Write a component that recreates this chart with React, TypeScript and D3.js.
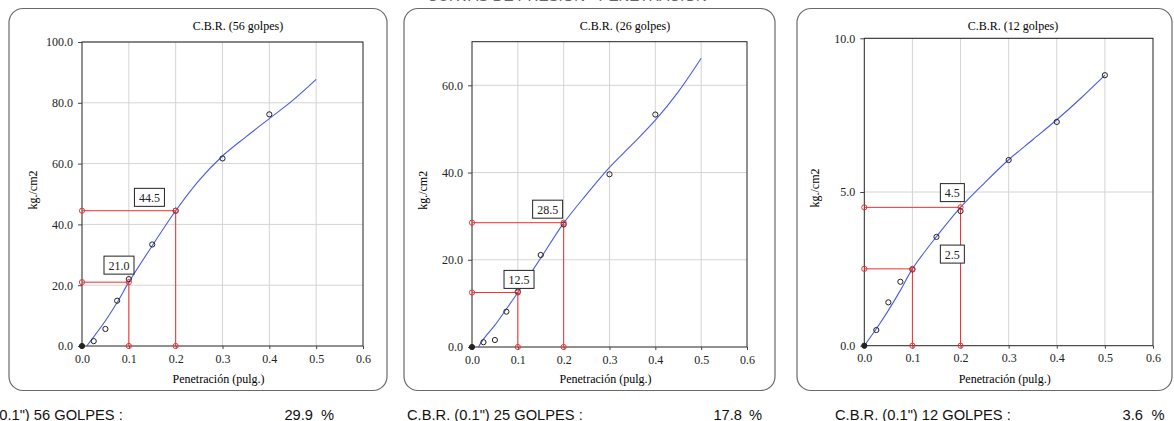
import React, { useEffect, useRef } from 'react';
import * as d3 from 'd3';

// measured points: penetration (in) vs load (kg/cm2)
const penetration = [0, 0.025, 0.05, 0.075, 0.1, 0.15, 0.2, 0.3, 0.4, 0.5];
const load56 = [0, 1.6, 5.6, 14.9, 22.0, 33.4, 44.5, 61.7, 76.2];
const load26 = [0, 1.1, 1.6, 8.1, 12.7, 21.1, 28.1, 39.6, 53.3];
const load12 = [0, 0.51, 1.41, 2.08, 2.48, 3.54, 4.38, 6.04, 7.28, 8.8];

// fitted curves
const fitX56 = [0.01, 0.025, 0.05, 0.075, 0.1, 0.15, 0.2, 0.25, 0.3, 0.35, 0.4, 0.45, 0.5];
const fit56 = [0, 3.0, 8.3, 14.3, 21.0, 33.0, 44.5, 54.5, 62.5, 68.8, 74.8, 80.8, 87.7];
const fitX26 = [0.014, 0.025, 0.05, 0.075, 0.1, 0.15, 0.2, 0.25, 0.3, 0.35, 0.4, 0.45, 0.5];
const fit26 = [0, 1.8, 5.0, 8.7, 12.5, 20.4, 28.4, 35.0, 41.2, 46.5, 52.0, 58.5, 66.2];
const fitX12 = [0, 0.025, 0.05, 0.075, 0.1, 0.15, 0.2, 0.25, 0.3, 0.35, 0.4, 0.45, 0.5];
const fit12 = [0, 0.55, 1.15, 1.8, 2.5, 3.55, 4.5, 5.3, 6.05, 6.7, 7.35, 8.05, 8.8];

// loads at 0.1" and 0.2"
const readX = [0.1, 0.2];
const read56 = [21.0, 44.5];
const read26 = [12.5, 28.5];
const read12 = [2.5, 4.5];

const xTicks = [0, 0.1, 0.2, 0.3, 0.4, 0.5, 0.6];
const yTicks56 = [0, 20, 40, 60, 80, 100];
const yTicks26 = [0, 20, 40, 60];
const yTicks12 = [0, 5, 10];

const titles = ['C.B.R. (56 golpes)', 'C.B.R. (26 golpes)', 'C.B.R. (12 golpes)'];
const footers = ['C.B.R. (0.1") 56 GOLPES :', 'C.B.R. (0.1") 25 GOLPES :', 'C.B.R. (0.1") 12 GOLPES :'];
const cbrValues = ['29.9', '17.8', '3.6'];

const panels = [
  {
    box: { x: 9, y: 8.5, w: 378, h: 382 }, plot: { l: 82, r: 363, t: 42, b: 346 },
    yMax: 100, yTicks: yTicks56, pts: load56, fitX: fitX56, fit: fit56, reads: read56,
    labelAt: [[0.079, 26.6], [0.144, 48.9]], titleX: 238, footX: -53, numX: 313, pctX: 321,
  },
  {
    box: { x: 404, y: 8.5, w: 371, h: 382 }, plot: { l: 472, r: 747, t: 41.7, b: 347 },
    yMax: 70, yTicks: yTicks26, pts: load26, fitX: fitX26, fit: fit26, reads: read26,
    labelAt: [[0.1026, 15.5], [0.165, 31.6]], titleX: 625, footX: 407, numX: 742, pctX: 749,
  },
  {
    box: { x: 797, y: 8.5, w: 375, h: 382 }, plot: { l: 864.3, r: 1153, t: 38.3, b: 345.7 },
    yMax: 10, yTicks: yTicks12, pts: load12, fitX: fitX12, fit: fit12, reads: read12,
    labelAt: [[0.183, 2.98], [0.183, 4.98]], titleX: 1013, footX: 835, numX: 1143, pctX: 1151.5,
  },
];

const SERIF = '"Liberation Serif", "Times New Roman", serif';
const SANS = '"Liberation Sans", Arial, sans-serif';

const App = () => {
  const ref = useRef<SVGSVGElement>(null);

  useEffect(() => {
    const svg = d3.select(ref.current);
    svg.selectAll('*').remove();

    // heading of the page, mostly above the picture's top edge
    svg.append('text')
      .attr('x', 567).attr('y', 1)
      .attr('text-anchor', 'middle')
      .attr('font-family', SANS).attr('font-size', 15)
      .attr('fill', '#666')
      .text('CURVAS DE PRESIÓN - PENETRACIÓN');

    panels.forEach((p, i) => {
      const g = svg.append('g');
      const x = d3.scaleLinear().domain([0, 0.6]).range([p.plot.l, p.plot.r]);
      const y = d3.scaleLinear().domain([0, p.yMax]).range([p.plot.b, p.plot.t]);

      g.append('rect')
        .attr('x', p.box.x).attr('y', p.box.y)
        .attr('width', p.box.w).attr('height', p.box.h)
        .attr('rx', 14)
        .attr('fill', 'white').attr('stroke', '#6a6a6a').attr('stroke-width', 1.2);

      g.append('text')
        .attr('x', p.titleX).attr('y', 30)
        .attr('text-anchor', 'middle')
        .attr('font-family', SERIF).attr('font-size', 12)
        .text(titles[i]);

      // grid
      g.selectAll('.vg').data(xTicks.slice(1, -1)).enter().append('line')
        .attr('x1', d => x(d)).attr('x2', d => x(d))
        .attr('y1', p.plot.t).attr('y2', p.plot.b)
        .attr('stroke', '#d4d4d4');
      g.selectAll('.hg').data(p.yTicks.slice(1)).enter().append('line')
        .attr('x1', p.plot.l).attr('x2', p.plot.r)
        .attr('y1', d => y(d)).attr('y2', d => y(d))
        .attr('stroke', '#d4d4d4');

      g.append('rect')
        .attr('x', p.plot.l).attr('y', p.plot.t)
        .attr('width', p.plot.r - p.plot.l).attr('height', p.plot.b - p.plot.t)
        .attr('fill', 'none').attr('stroke', '#222');

      // y axis
      const yAxis = d3.axisLeft(y).tickValues(p.yTicks).tickSize(4).tickPadding(5)
        .tickFormat(d3.format('.1f'));
      const ya = g.append('g').attr('transform', `translate(${p.plot.l},0)`).call(yAxis);
      ya.select('.domain').remove();
      ya.selectAll('text').attr('font-family', SERIF).attr('font-size', 12).attr('fill', '#222');
      ya.selectAll('line').attr('stroke', '#444');

      // x axis
      const xAxis = d3.axisBottom(x).tickValues(xTicks).tickSize(3).tickPadding(5)
        .tickFormat(d3.format('.1f'));
      const xa = g.append('g').attr('transform', `translate(0,${p.plot.b})`).call(xAxis);
      xa.select('.domain').remove();
      xa.selectAll('text').attr('font-family', SERIF).attr('font-size', 12).attr('fill', '#222');
      xa.selectAll('line').attr('stroke', '#444');

      g.append('text')
        .attr('x', (p.plot.l + p.plot.r) / 2 - 4).attr('y', 383)
        .attr('text-anchor', 'middle')
        .attr('font-family', SERIF).attr('font-size', 12)
        .text('Penetración (pulg.)');

      g.append('text')
        .attr('transform', `translate(${p.plot.l - 45},${(p.plot.t + p.plot.b) / 2 - 4}) rotate(-90)`)
        .attr('text-anchor', 'middle')
        .attr('font-family', SERIF).attr('font-size', 12)
        .text('kg./cm2');

      // fitted curve
      const fitPts = p.fitX.map((v, k) => [v, p.fit[k]] as [number, number]);
      g.append('path')
        .datum(fitPts)
        .attr('d', d3.line<[number, number]>()
          .x(d => x(d[0])).y(d => y(d[1]))
          .curve(d3.curveCatmullRom.alpha(0.5)))
        .attr('fill', 'none').attr('stroke', '#4a5ce0').attr('stroke-width', 1.1);

      // red read-off lines
      readX.forEach((rx, k) => {
        const rv = p.reads[k];
        g.append('path')
          .attr('d', `M${x(0)},${y(rv)}H${x(rx)}V${y(0)}`)
          .attr('fill', 'none').attr('stroke', '#f03030').attr('stroke-width', 1);
      });

      // data points
      const data = p.pts.map((v, k) => [penetration[k], v] as [number, number]);
      g.selectAll('.pt').data(data).enter().append('circle')
        .attr('cx', d => x(d[0])).attr('cy', d => y(d[1]))
        .attr('r', 2.6)
        .attr('fill', d => (d[0] === 0 ? '#222' : 'none'))
        .attr('stroke', '#222').attr('stroke-width', 1);

      const reds: [number, number][] = [];
      readX.forEach((rx, k) => {
        reds.push([0, p.reads[k]], [rx, p.reads[k]], [rx, 0]);
      });
      g.selectAll('.rp').data(reds).enter().append('circle')
        .attr('cx', d => x(d[0])).attr('cy', d => y(d[1]))
        .attr('r', 2.6)
        .attr('fill', 'none').attr('stroke', '#f03030').attr('stroke-width', 1);

      // value labels
      p.reads.forEach((rv, k) => {
        const [lx, ly] = p.labelAt[k];
        const label = rv.toFixed(1);
        const w = label.length * 6 + 6;
        g.append('rect')
          .attr('x', x(lx) - w / 2).attr('y', y(ly) - 9)
          .attr('width', w).attr('height', 18)
          .attr('fill', 'white').attr('stroke', '#222').attr('stroke-width', 1);
        g.append('text')
          .attr('x', x(lx)).attr('y', y(ly) + 4.5)
          .attr('text-anchor', 'middle')
          .attr('font-family', SERIF).attr('font-size', 12)
          .attr('fill', '#222')
          .text(label);
      });

      // footer
      svg.append('text')
        .attr('x', p.footX).attr('y', 420)
        .attr('font-family', SANS).attr('font-size', 14.7)
        .attr('fill', '#111')
        .text(footers[i]);
      svg.append('text')
        .attr('x', p.numX).attr('y', 420)
        .attr('text-anchor', 'end')
        .attr('font-family', SANS).attr('font-size', 14.7)
        .attr('fill', '#111')
        .text(cbrValues[i]);
      svg.append('text')
        .attr('x', p.pctX).attr('y', 420)
        .attr('font-family', SANS).attr('font-size', 14.7)
        .attr('fill', '#111')
        .text('%');
    });
  }, []);

  return (
    <svg ref={ref} width={1174} height={421}
      style={{ position: 'absolute', left: 0, top: 0, background: 'white' }} />
  );
};

export default App;
